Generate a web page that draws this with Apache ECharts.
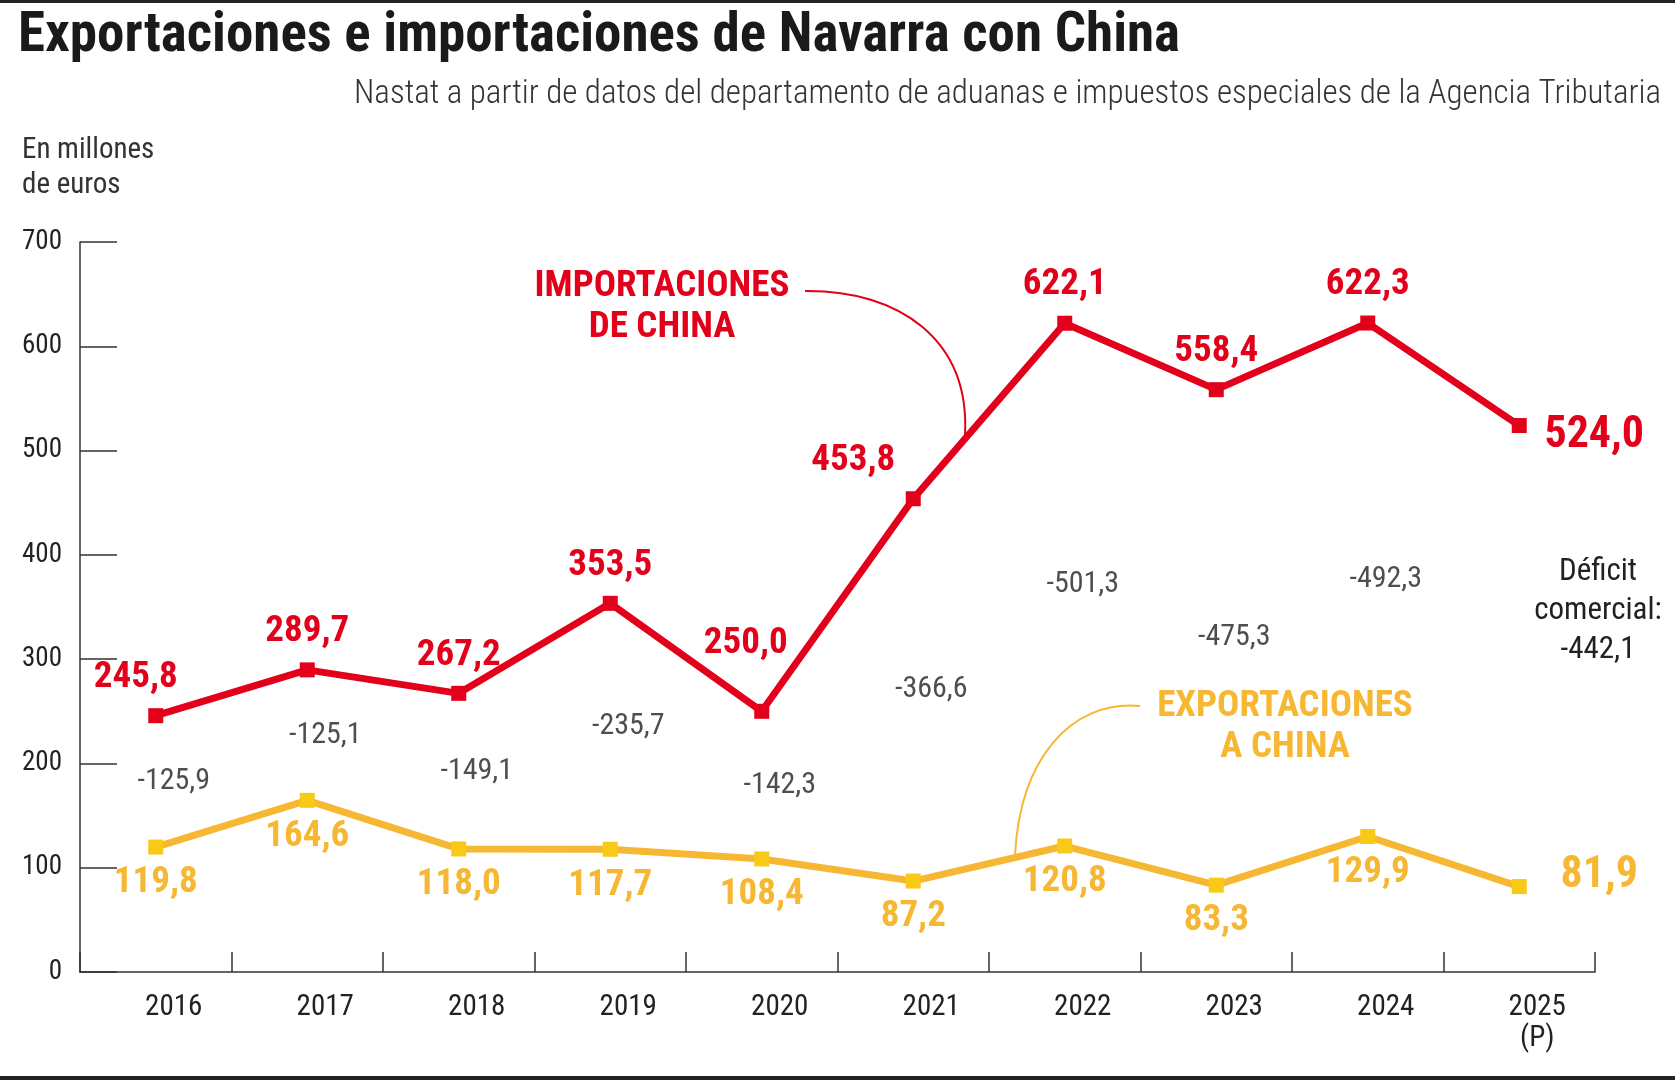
<!DOCTYPE html>
<html><head><meta charset="utf-8">
<script src="https://cdn.jsdelivr.net/npm/echarts@6/dist/echarts.min.js"></script>
<style>html,body{margin:0;padding:0;background:#fff}#main{width:1675px;height:1080px}</style>
</head><body><div id="main"></div>
<script>
const years = ['2016','2017','2018','2019','2020','2021','2022','2023','2024','2025\n(P)'];
const importaciones = [245.8, 289.7, 267.2, 353.5, 250.0, 453.8, 622.1, 558.4, 622.3, 524.0];
const exportaciones = [119.8, 164.6, 118.0, 117.7, 108.4, 87.2, 120.8, 83.3, 129.9, 81.9];
const deficit = [-125.9, -125.1, -149.1, -235.7, -142.3, -366.6, -501.3, -475.3, -492.3, -442.1];
const yTicks = [0, 100, 200, 300, 400, 500, 600, 700];

const RED = '#e2001a', YEL = '#f6b733', YMARK = '#f8c916';
const FONT = '"Roboto Condensed", "Roboto", sans-serif';
const fmt = v => v.toFixed(1).replace('.', ',');
const n = years.length;

const chart = echarts.init(document.getElementById('main'));
chart.setOption({
  animation: false,
  textStyle: { fontFamily: FONT },
  graphic: [
    { type: 'rect', shape: { x: 0, y: 0, width: 1675, height: 3 }, style: { fill: '#222' } },
    { type: 'rect', shape: { x: 0, y: 1076, width: 1675, height: 4 }, style: { fill: '#222' } },
    { type: 'text', left: 18, top: 10, style: { text: 'Exportaciones e importaciones de Navarra con China', font: 'bold 55px ' + FONT, fill: '#1a1a1a' } },
    { type: 'text', right: 14, top: 78, style: { text: 'Nastat a partir de datos del departamento de aduanas e impuestos especiales de la Agencia Tributaria', font: '300 33px ' + FONT, fill: '#333' } },
    { type: 'text', left: 22, top: 133, style: { text: 'En millones\nde euros', font: '29px ' + FONT, fill: '#333', lineHeight: 35 } },
    { type: 'text', x: 662, y: 266, style: { text: 'IMPORTACIONES\nDE CHINA', font: 'bold 37px ' + FONT, fill: RED, align: 'center', lineHeight: 41 } },
    { type: 'text', x: 1285, y: 686, style: { text: 'EXPORTACIONES\nA CHINA', font: 'bold 37px ' + FONT, fill: YEL, align: 'center', lineHeight: 41 } },
    { type: 'bezierCurve', shape: { x1: 805, y1: 291, cpx1: 900, cpy1: 290, cpx2: 970, cpy2: 340, x2: 965, y2: 435 }, style: { stroke: RED, lineWidth: 2, fill: null } },
    { type: 'bezierCurve', shape: { x1: 1140, y1: 706, cpx1: 1070, cpy1: 700, cpx2: 1020, cpy2: 760, x2: 1015, y2: 855 }, style: { stroke: YEL, lineWidth: 2, fill: null } },
    { type: 'text', x: 1598, y: 553, style: { text: 'Déficit\ncomercial:\n' + fmt(deficit[n - 1]), font: '31px ' + FONT, fill: '#222', align: 'center', lineHeight: 39 } }
  ],
  grid: { left: 80, right: 80, top: 242, bottom: 108 },
  xAxis: {
    type: 'category', data: years, boundaryGap: true,
    axisLine: { lineStyle: { color: '#333', width: 1.5 } },
    axisTick: { show: true, interval: 0, inside: true, length: 20, lineStyle: { color: '#333', width: 1.5 } },
    axisLabel: { color: '#222', fontSize: 29, margin: 20, lineHeight: 31, fontFamily: FONT, padding: [0, 0, 0, 36], interval: 0 }
  },
  yAxis: {
    type: 'value', min: 0, max: 700, interval: 100,
    axisLine: { show: true, lineStyle: { color: '#333', width: 1.5 } },
    axisTick: { show: true, inside: true, length: 37, lineStyle: { color: '#333', width: 1.5 } },
    splitLine: { show: false },
    axisLabel: { color: '#222', fontSize: 27, margin: 18, fontFamily: FONT, formatter: v => yTicks.includes(v) ? String(v) : '' }
  },
  series: [
    {
      type: 'line', data: importaciones, symbol: 'rect', symbolSize: 15,
      lineStyle: { color: RED, width: 7 }, itemStyle: { color: RED },
      label: { show: true, position: 'top', distance: 12, color: RED, fontSize: 37, fontWeight: 'bold', fontFamily: FONT,
        formatter: p => fmt(p.value) },
      labelLayout: p => {
        const i = p.dataIndex;
        if (i === n - 1) return { dx: 75, dy: 52, fontSize: 44 };
        if (i === 0) return { dx: -20 };
        if (i === 4) return { dx: -16, dy: -30 };
        if (i === 5) return { dx: -60, dy: 0 };
        return {};
      }
    },
    {
      type: 'line', data: exportaciones, symbol: 'rect', symbolSize: 15,
      lineStyle: { color: YEL, width: 7 }, itemStyle: { color: YMARK },
      label: { show: true, position: 'bottom', distance: 10, color: YEL, fontSize: 37, fontWeight: 'bold', fontFamily: FONT,
        formatter: p => fmt(p.value) },
      labelLayout: p => p.dataIndex === n - 1 ? { dx: 80, dy: -50, fontSize: 44 } : {}
    },
    {
      type: 'scatter', symbolSize: 0, silent: true,
      data: deficit.slice(0, n - 1).map((d, i) => [i, (importaciones[i] + exportaciones[i]) / 2]),
      label: { show: true, position: 'inside', color: '#222', fontSize: 30, fontFamily: FONT,
        formatter: p => fmt(deficit[p.dataIndex]) },
      labelLayout: { dx: 18 }
    }
  ]
});
</script></body></html>
